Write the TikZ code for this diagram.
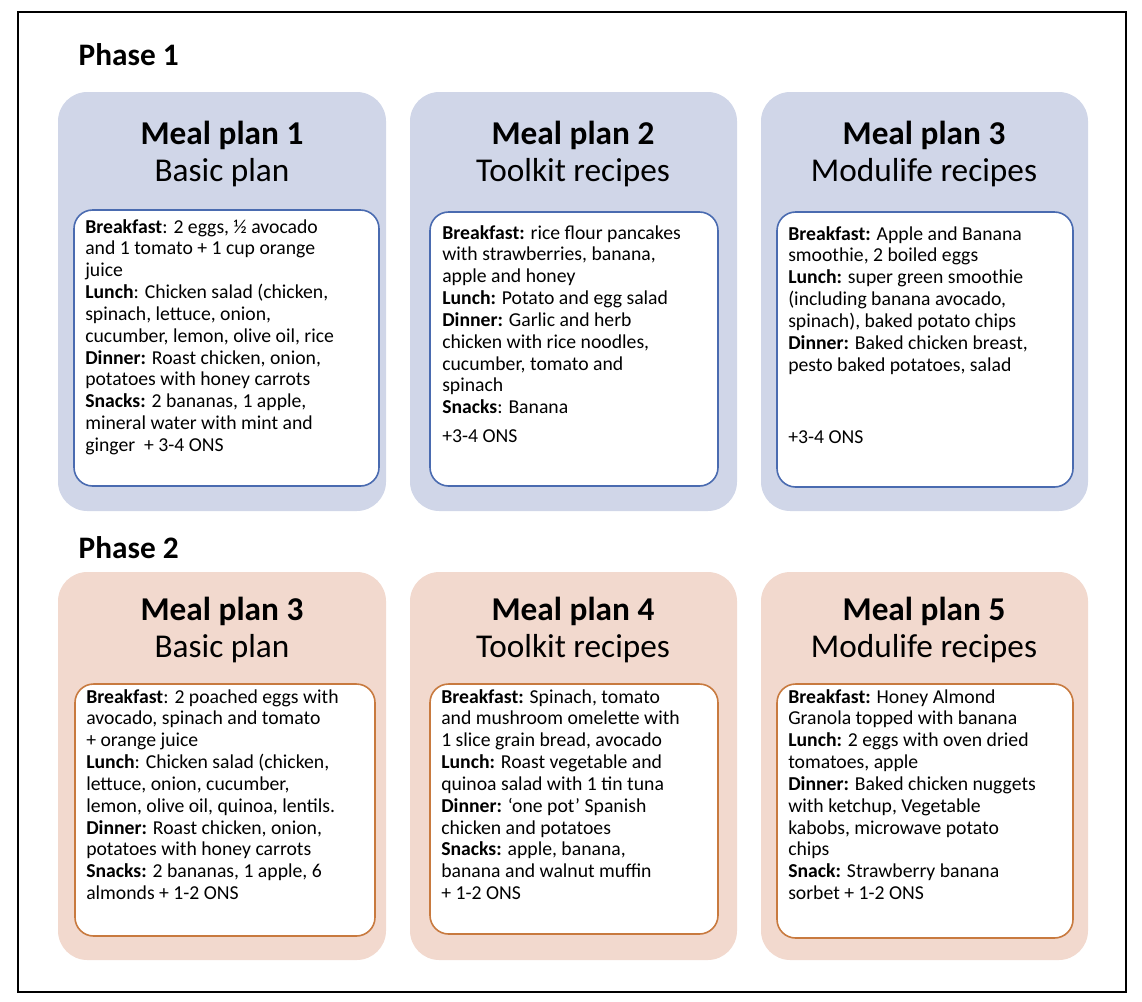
\documentclass[tikz,border=0pt]{standalone}
\usepackage{fontspec}
\setmainfont{Carlito}
\definecolor{bluecard}{HTML}{D0D6E8}
\definecolor{blueline}{HTML}{4A6BB0}
\definecolor{peachcard}{HTML}{F2D9CE}
\definecolor{peachline}{HTML}{C87A3F}
\tikzset{
 card/.style={rounded corners=22pt, draw=none},
 inner/.style={rounded corners=14pt, fill=white, line width=1.2pt},
 title/.style={align=center, font=\fontsize{25}{28}\selectfont},
 body/.style={anchor=north west, align=left, inner sep=0pt, font=\fontsize{14.8}{16.4}\selectfont},
 phase/.style={anchor=west, font=\fontsize{23.5}{26}\selectfont\bfseries}
}
\begin{document}
\begin{tikzpicture}[x=0.0264cm,y=-0.0264cm]
\useasboundingbox (0,0) rectangle (1142,1001);
\draw[line width=1pt] (18,12) rectangle (1126,992);
\node[phase] (p1) at (74,55) {Phase 1};
\node[phase] (p2) at (74,548) {Phase 2};
% phase 1 cards
\fill[card,bluecard] (58,92) rectangle (386,511);
\fill[card,bluecard] (410,92) rectangle (737,511);
\fill[card,bluecard] (761,92) rectangle (1088,511);
\node[title] (t1) at (222,154) {\textbf{Meal plan 1}\\Basic plan};
\node[title] (t2) at (573,154) {\textbf{Meal plan 2}\\Toolkit recipes};
\node[title] (t3) at (924,154) {\textbf{Meal plan 3}\\Modulife recipes};
\draw[inner,draw=blueline] (74,210) rectangle (379,486);
\draw[inner,draw=blueline] (430,212) rectangle (718,486);
\draw[inner,draw=blueline] (777,212) rectangle (1073,487);
\node[body] (b1) at (85,219) {\textbf{Breakfast}: 2 eggs, ½ avocado\\and 1 tomato + 1 cup orange\\juice\\\textbf{Lunch}: Chicken salad (chicken,\\spinach, lettuce, onion,\\cucumber, lemon, olive oil, rice\\\textbf{Dinner:} Roast chicken, onion,\\potatoes with honey carrots\\\textbf{Snacks:} 2 bananas, 1 apple,\\mineral water with mint and\\ginger\ \ + 3-4 ONS};
\node[body] (b2) at (442,225) {\textbf{Breakfast:} rice flour pancakes\\with strawberries, banana,\\apple and honey\\\textbf{Lunch:} Potato and egg salad\\\textbf{Dinner:} Garlic and herb\\chicken with rice noodles,\\cucumber, tomato and\\spinach\\\textbf{Snacks}: Banana\\[5pt]+3-4 ONS};
\node[body] (b3) at (788,226) {\textbf{Breakfast:} Apple and Banana\\smoothie, 2 boiled eggs\\\textbf{Lunch:} super green smoothie\\(including banana avocado,\\spinach), baked potato chips\\\textbf{Dinner:} Baked chicken breast,\\pesto baked potatoes, salad\\[38pt]+3-4 ONS};
% phase 2 cards
\fill[card,peachcard] (58,572) rectangle (386,960);
\fill[card,peachcard] (410,572) rectangle (737,960);
\fill[card,peachcard] (761,572) rectangle (1088,960);
\node[title] (t4) at (222,630) {\textbf{Meal plan 3}\\Basic plan};
\node[title] (t5) at (573,630) {\textbf{Meal plan 4}\\Toolkit recipes};
\node[title] (t6) at (924,630) {\textbf{Meal plan 5}\\Modulife recipes};
\draw[inner,draw=peachline] (75,684) rectangle (375,936);
\draw[inner,draw=peachline] (430,684) rectangle (718,934);
\draw[inner,draw=peachline] (777,684) rectangle (1073,938);
\node[body] (b4) at (86,689) {\textbf{Breakfast}: 2 poached eggs with\\avocado, spinach and tomato\\+ orange juice\\\textbf{Lunch}: Chicken salad (chicken,\\lettuce, onion, cucumber,\\lemon, olive oil, quinoa, lentils.\\\textbf{Dinner:} Roast chicken, onion,\\potatoes with honey carrots\\\textbf{Snacks:} 2 bananas, 1 apple, 6\\almonds + 1-2 ONS};
\node[body] (b5) at (441,689) {\textbf{Breakfast:} Spinach, tomato\\and mushroom omelette with\\1 slice grain bread, avocado\\\textbf{Lunch:} Roast vegetable and\\quinoa salad with 1 tin tuna\\\textbf{Dinner:} ‘one pot’ Spanish\\chicken and potatoes\\\textbf{Snacks:} apple, banana,\\banana and walnut muffin\\+ 1-2 ONS};
\node[body] (b6) at (788,689) {\textbf{Breakfast:} Honey Almond\\Granola topped with banana\\\textbf{Lunch:} 2 eggs with oven dried\\tomatoes, apple\\\textbf{Dinner:} Baked chicken nuggets\\with ketchup, Vegetable\\kabobs, microwave potato\\chips\\\textbf{Snack:} Strawberry banana\\sorbet + 1-2 ONS};
\end{tikzpicture}
\end{document}
